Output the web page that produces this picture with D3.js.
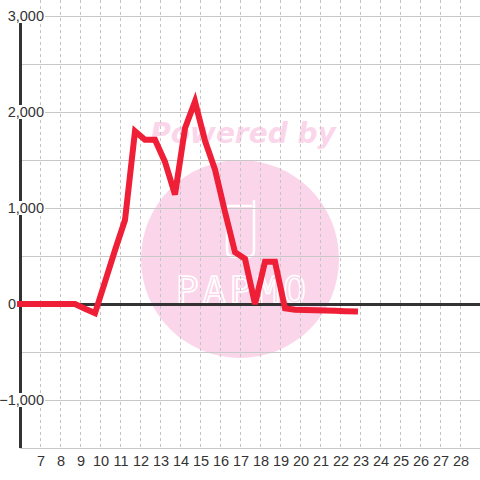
<!DOCTYPE html>
<html lang="en">
<head>
    <meta charset="UTF-8">
    <title>d3</title>
    <script src="https://cdn.jsdelivr.net/npm/d3@7"></script>
    <style>
        body{margin:0;background:#fff;}
        text{font-family:"Liberation Sans",Arial,sans-serif;}
    </style>
</head>
<body>
    <script>
             var width=480;
             var height=480;
             // data (x in days, half-day steps)
             var days=[6,6.75,7.25,7.75,8.25,8.75,9.25,9.75,10.25,10.75,11.25,11.75,12.25,12.75,13.25,13.75,14.25,14.75,15.25,15.75,16.25,16.75,17.25,17.75,18.25,18.75,19.25,19.75,20.25,20.75,21.25,21.75,22.25,22.75];
             var values=[0,0,0,0,0,0,-50,-95,230,560,875,1800,1710,1710,1480,1140,1830,2110,1700,1400,960,540,470,0,440,440,-45,-60,-62,-65,-67,-70,-75,-78];
             var xTicks=[7,8,9,10,11,12,13,14,15,16,17,18,19,20,21,22,23,24,25,26,27,28];
             var yTicks=[-1000,0,1000,2000,3000];
             var yGrid=[-1500,-1000,-500,0,500,1000,1500,2000,2500,3000];

             var svg=d3.select("body").append("svg").attr("width",width).attr("height",height);
             var xScale=d3.scaleLinear().domain([6,29]).range([20,480]);
             var yScale=d3.scaleLinear().domain([-1500,3000]).range([448,16]);

             //watermark
             var wm=svg.append("g");
             wm.append("circle").attr("cx",240).attr("cy",259).attr("r",99).attr("fill","#fbd6ea");
             wm.append("text").attr("x",243).attr("y",143).attr("text-anchor","middle")
                     .attr("font-size",28).attr("font-weight","bold").attr("font-style","italic")
                     .style("font-family","'DejaVu Sans',sans-serif")
                     .attr("fill","#fbd6ea").text("Powered by");
             wm.append("path")
                     .attr("d","M227,206 L227,250 Q227,257 234,257 L247,257 Q254,257 254,250 L254,201 M227,206 L251,206")
                     .attr("fill","none").attr("stroke","#fff").attr("stroke-width",2.5).attr("stroke-linecap","round");
             wm.append("text").attr("x",243).attr("y",303).attr("text-anchor","middle")
                     .attr("font-size",38).attr("letter-spacing",4)
                     .attr("fill","none").attr("stroke","#fff").attr("stroke-width",1.6)
                     .style("font-family","'DejaVu Sans Mono',monospace").text("PAPMO");

             //垂直虚线网格
             svg.append("g").selectAll("line").data(xTicks).enter().append("line")
                     .attr("x1",function(d){return xScale(d)+0.5;})
                     .attr("x2",function(d){return xScale(d)+0.5;})
                     .attr("y1",0).attr("y2",448)
                     .attr("stroke","#c4c4c4").attr("stroke-dasharray","3,3");
             //水平网格
             svg.append("g").selectAll("line").data(yGrid).enter().append("line")
                     .attr("x1",20).attr("x2",480)
                     .attr("y1",function(d){return Math.round(yScale(d))+0.5;})
                     .attr("y2",function(d){return Math.round(yScale(d))+0.5;})
                     .attr("stroke","#c8c8c8");

             //y axis line
             svg.append("line").attr("x1",20.5).attr("x2",20.5).attr("y1",16).attr("y2",448)
                     .attr("stroke","#333").attr("stroke-width",3);
             //zero line
             svg.append("line").attr("x1",17).attr("x2",480)
                     .attr("y1",yScale(0)+0.5).attr("y2",yScale(0)+0.5)
                     .attr("stroke","#333").attr("stroke-width",3);

             //y labels with white background
             var fmt=d3.format(",");
             var yl=svg.append("g").selectAll("g").data(yTicks).enter().append("g");
             yl.each(function(d){
                     var g=d3.select(this);
                     var t=g.append("text")
                             .attr("x",d===0?8:44)
                             .attr("y",yScale(d)+5)
                             .attr("text-anchor",d===0?"start":"end")
                             .attr("font-size",14.5).attr("fill","#333")
                             .text(fmt(d));
                     var b=t.node().getBBox();
                     g.insert("rect","text").attr("x",b.x-1).attr("y",b.y+1)
                             .attr("width",b.width+2).attr("height",b.height-2).attr("fill","#fff");
             });

             //x labels
             svg.append("g").selectAll("text").data(xTicks).enter().append("text")
                     .attr("x",function(d){return xScale(d)+1;})
                     .attr("y",466)
                     .attr("text-anchor","middle")
                     .attr("font-size",14.5).attr("fill","#333")
                     .text(function(d){return d;});

             //数据线
             var line=d3.line()
                     .x(function(d,i){return xScale(days[i]);})
                     .y(function(d){return yScale(d);});
             svg.append("path").datum(values)
                     .attr("d",line)
                     .attr("fill","none")
                     .attr("stroke","#ee1f36")
                     .attr("stroke-width",6)
                     .attr("stroke-linecap","square")
                     .attr("stroke-linejoin","miter");
    </script>
</body>
</html>
